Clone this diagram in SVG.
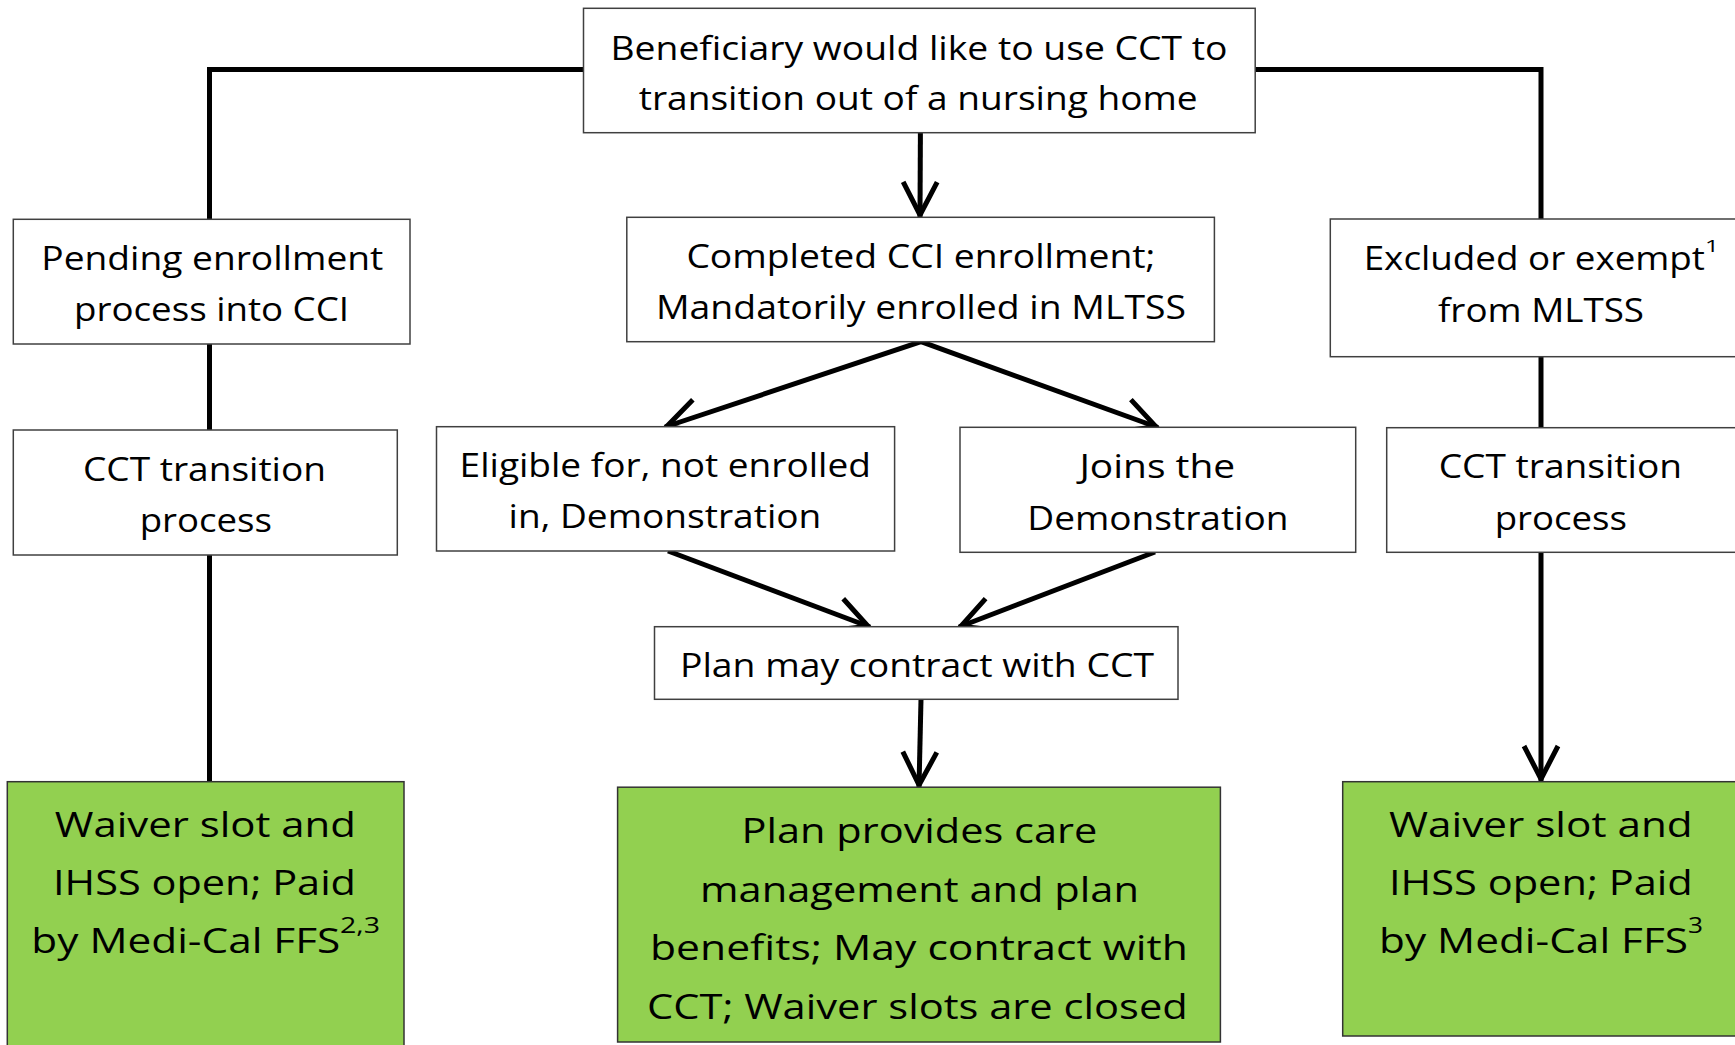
<svg xmlns="http://www.w3.org/2000/svg" width="1735" height="1045" viewBox="0 0 1735 1045">
<defs>
<style>
.box{fill:#ffffff;stroke:#404040;stroke-width:1.5}
.green{fill:#92d050;stroke:#333333;stroke-width:1.5}
.t{font-family:"Open Sans","Noto Sans","Liberation Sans",sans-serif;font-size:32.5px;fill:#000000}
.tg{font-family:"Open Sans","Noto Sans","Liberation Sans",sans-serif;font-size:35px;fill:#000000}
.sup{font-family:"Open Sans","Noto Sans","Liberation Sans",sans-serif;font-size:21px;fill:#000000}
.sup1{font-family:"Open Sans","Noto Sans","Liberation Sans",sans-serif;font-size:16.5px;fill:#000000}
.conn{fill:none;stroke:#000000;stroke-width:5}
</style>
<marker id="arrow" markerUnits="userSpaceOnUse" viewBox="-42 -22 48 44" markerWidth="48" markerHeight="44" refX="2" refY="0" orient="auto">
<path d="M-33,-17 L0,0 L-33,17" fill="none" stroke="#000000" stroke-width="5" stroke-linejoin="miter"/>
</marker>
</defs>
<rect x="0" y="0" width="1735" height="1045" fill="#ffffff"/>

<g id="connectors">
<polyline class="conn" points="583.5,69.6 209.5,69.6 209.5,219.3"/>
<polyline class="conn" points="1255.2,69.6 1541,69.6 1541,219"/>
<line class="conn" x1="209.5" y1="344" x2="209.5" y2="430"/>
<line class="conn" x1="209.5" y1="555" x2="209.5" y2="781.7"/>
<line class="conn" x1="1541" y1="356.7" x2="1541" y2="427.7"/>
<line class="conn" x1="1541" y1="552.3" x2="1541" y2="781" marker-end="url(#arrow)"/>
<line class="conn" x1="920.4" y1="132.7" x2="920" y2="217" marker-end="url(#arrow)"/>
<line class="conn" x1="921" y1="341.7" x2="665" y2="427" marker-end="url(#arrow)"/>
<line class="conn" x1="921" y1="341.7" x2="1158" y2="427.5" marker-end="url(#arrow)"/>
<line class="conn" x1="668" y1="551" x2="870" y2="627" marker-end="url(#arrow)"/>
<line class="conn" x1="1155" y1="552" x2="959" y2="627" marker-end="url(#arrow)"/>
<line class="conn" x1="921" y1="699.3" x2="919" y2="787" marker-end="url(#arrow)"/>
</g>

<g id="node-beneficiary">
<rect class="box" x="583.5" y="8.3" width="671.7" height="124.4"/>
<text class="t" x="610.5" y="59.5" textLength="617" lengthAdjust="spacingAndGlyphs">Beneficiary would like to use CCT to</text>
<text class="t" x="638.7" y="110" textLength="559" lengthAdjust="spacingAndGlyphs">transition out of a nursing home</text>
</g>

<g id="node-pending">
<rect class="box" x="13.3" y="219.3" width="396.7" height="124.7"/>
<text class="t" x="41.3" y="270" textLength="342" lengthAdjust="spacingAndGlyphs">Pending enrollment</text>
<text class="t" x="74" y="321" textLength="275" lengthAdjust="spacingAndGlyphs">process into CCI</text>
</g>

<g id="node-completed">
<rect class="box" x="626.8" y="217.3" width="587.6" height="124.4"/>
<text class="t" x="686.4" y="268.3" textLength="469" lengthAdjust="spacingAndGlyphs">Completed CCI enrollment;</text>
<text class="t" x="656" y="319.3" textLength="530" lengthAdjust="spacingAndGlyphs">Mandatorily enrolled in MLTSS</text>
</g>

<g id="node-excluded">
<rect class="box" x="1330.3" y="219" width="420" height="137.7"/>
<text class="t" x="1363.7" y="270" textLength="341.3" lengthAdjust="spacingAndGlyphs">Excluded or exempt</text>
<text class="sup1" x="1705" y="251.7" textLength="14" lengthAdjust="spacingAndGlyphs">1</text>
<text class="t" x="1438" y="321.7" textLength="206" lengthAdjust="spacingAndGlyphs">from MLTSS</text>
</g>

<g id="node-cct-left">
<rect class="box" x="13.3" y="430" width="384" height="125"/>
<text class="t" x="83" y="481" textLength="243" lengthAdjust="spacingAndGlyphs">CCT transition</text>
<text class="t" x="139.7" y="531.7" textLength="132.3" lengthAdjust="spacingAndGlyphs">process</text>
</g>

<g id="node-eligible">
<rect class="box" x="436.5" y="426.7" width="458.1" height="124.3"/>
<text class="t" x="459.6" y="476.7" textLength="411.3" lengthAdjust="spacingAndGlyphs">Eligible for, not enrolled</text>
<text class="t" x="508.6" y="528.3" textLength="312.7" lengthAdjust="spacingAndGlyphs">in, Demonstration</text>
</g>

<g id="node-joins">
<rect class="box" x="960" y="427.3" width="395.7" height="125"/>
<text class="t" x="1079.4" y="478.3" textLength="155.8" lengthAdjust="spacingAndGlyphs">Joins the</text>
<text class="t" x="1027.3" y="530" textLength="261.2" lengthAdjust="spacingAndGlyphs">Demonstration</text>
</g>

<g id="node-cct-right">
<rect class="box" x="1386.7" y="427.7" width="360" height="124.6"/>
<text class="t" x="1438.7" y="478" textLength="243.3" lengthAdjust="spacingAndGlyphs">CCT transition</text>
<text class="t" x="1494.7" y="530" textLength="132.3" lengthAdjust="spacingAndGlyphs">process</text>
</g>

<g id="node-plan-may">
<rect class="box" x="654.5" y="626.7" width="523.5" height="72.6"/>
<text class="t" x="680" y="676.7" textLength="474" lengthAdjust="spacingAndGlyphs">Plan may contract with CCT</text>
</g>

<g id="node-waiver-left">
<rect class="green" x="7.3" y="781.7" width="396.7" height="280"/>
<text class="tg" x="54.7" y="836.7" textLength="301.3" lengthAdjust="spacingAndGlyphs">Waiver slot and</text>
<text class="tg" x="53" y="895" textLength="303" lengthAdjust="spacingAndGlyphs">IHSS open; Paid</text>
<text class="tg" x="31.3" y="953.3" textLength="309" lengthAdjust="spacingAndGlyphs">by Medi-Cal FFS</text>
<text class="sup" x="340" y="933" textLength="40" lengthAdjust="spacingAndGlyphs">2,3</text>
</g>

<g id="node-plan-provides">
<rect class="green" x="617.6" y="787.2" width="602.8" height="254.8"/>
<text class="tg" x="741.6" y="843" textLength="355.7" lengthAdjust="spacingAndGlyphs">Plan provides care</text>
<text class="tg" x="700" y="901.7" textLength="439" lengthAdjust="spacingAndGlyphs">management and plan</text>
<text class="tg" x="650" y="960.2" textLength="537.8" lengthAdjust="spacingAndGlyphs">benefits; May contract with</text>
<text class="tg" x="647" y="1018.8" textLength="540.8" lengthAdjust="spacingAndGlyphs">CCT; Waiver slots are closed</text>
</g>

<g id="node-waiver-right">
<rect class="green" x="1342.7" y="781.7" width="410" height="254.3"/>
<text class="tg" x="1389" y="836.7" textLength="303.7" lengthAdjust="spacingAndGlyphs">Waiver slot and</text>
<text class="tg" x="1389" y="895" textLength="303.7" lengthAdjust="spacingAndGlyphs">IHSS open; Paid</text>
<text class="tg" x="1379" y="953.3" textLength="309" lengthAdjust="spacingAndGlyphs">by Medi-Cal FFS</text>
<text class="sup" x="1688" y="933" textLength="15" lengthAdjust="spacingAndGlyphs">3</text>
</g>
</svg>
